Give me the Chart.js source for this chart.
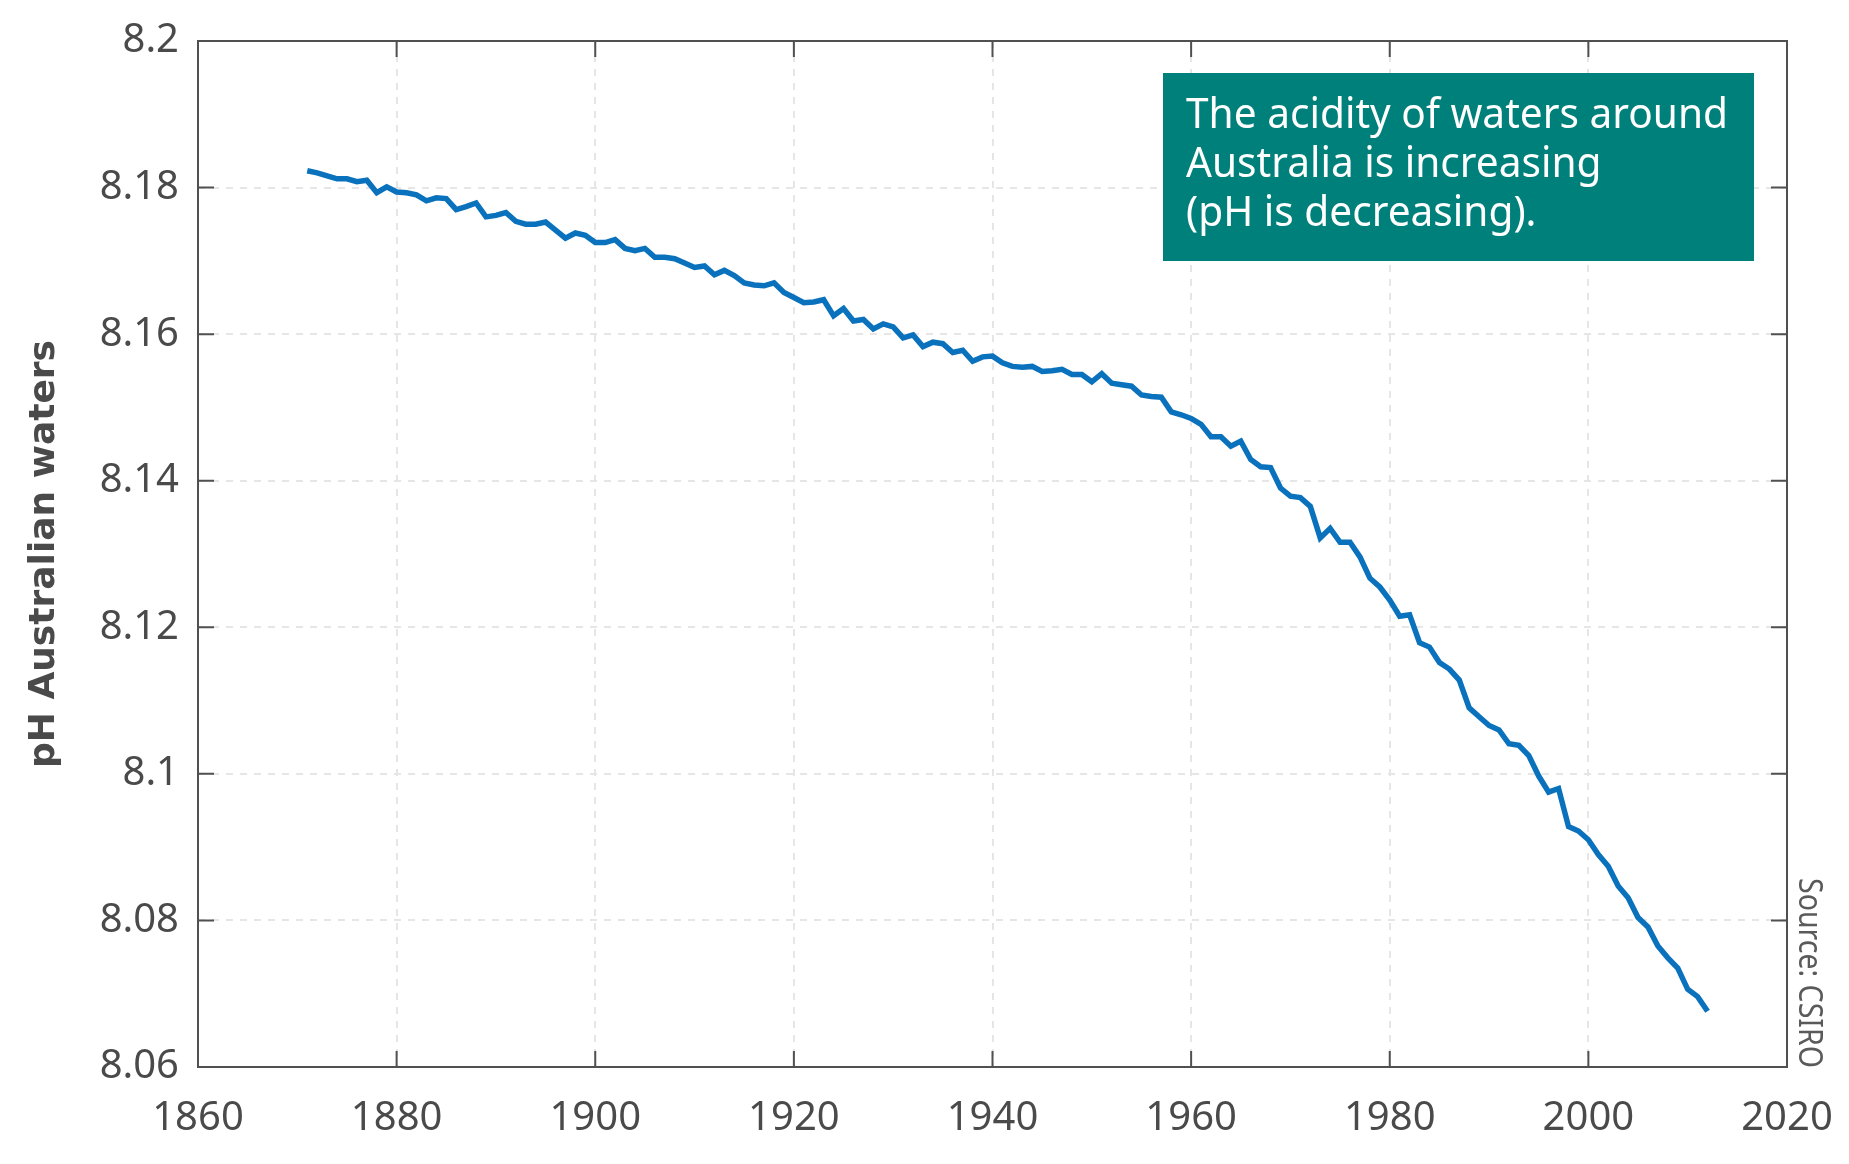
<!DOCTYPE html>
<html>
<head>
<meta charset="utf-8">
<script src="https://cdn.jsdelivr.net/npm/chart.js@4/dist/chart.umd.min.js"></script>
<style>
  body { margin: 0; background: #fff; }
  #wrap { width: 1849px; height: 1164px; }
</style>
</head>
<body>
<div id="wrap"><canvas id="phChart" width="1849" height="1164"></canvas></div>
<script>
const years = [
  1871, 1872, 1873, 1874, 1875, 1876, 1877, 1878, 1879, 1880,
  1881, 1882, 1883, 1884, 1885, 1886, 1887, 1888, 1889, 1890,
  1891, 1892, 1893, 1894, 1895, 1896, 1897, 1898, 1899, 1900,
  1901, 1902, 1903, 1904, 1905, 1906, 1907, 1908, 1909, 1910,
  1911, 1912, 1913, 1914, 1915, 1916, 1917, 1918, 1919, 1920,
  1921, 1922, 1923, 1924, 1925, 1926, 1927, 1928, 1929, 1930,
  1931, 1932, 1933, 1934, 1935, 1936, 1937, 1938, 1939, 1940,
  1941, 1942, 1943, 1944, 1945, 1946, 1947, 1948, 1949, 1950,
  1951, 1952, 1953, 1954, 1955, 1956, 1957, 1958, 1959, 1960,
  1961, 1962, 1963, 1964, 1965, 1966, 1967, 1968, 1969, 1970,
  1971, 1972, 1973, 1974, 1975, 1976, 1977, 1978, 1979, 1980,
  1981, 1982, 1983, 1984, 1985, 1986, 1987, 1988, 1989, 1990,
  1991, 1992, 1993, 1994, 1995, 1996, 1997, 1998, 1999, 2000,
  2001, 2002, 2003, 2004, 2005, 2006, 2007, 2008, 2009, 2010,
  2011, 2012
];

const phValues = [
  8.1823, 8.1820, 8.1816, 8.1812, 8.1812, 8.1808, 8.1810, 8.1793, 8.1801, 8.1794,
  8.1793, 8.1790, 8.1782, 8.1786, 8.1785, 8.1770, 8.1774, 8.1779, 8.1760, 8.1762,
  8.1766, 8.1754, 8.1750, 8.1750, 8.1753, 8.1742, 8.1731, 8.1738, 8.1735, 8.1725,
  8.1725, 8.1729, 8.1717, 8.1714, 8.1717, 8.1705, 8.1705, 8.1703, 8.1697, 8.1691,
  8.1693, 8.1681, 8.1687, 8.1680, 8.1670, 8.1667, 8.1666, 8.1670, 8.1657, 8.1650,
  8.1643, 8.1644, 8.1647, 8.1625, 8.1635, 8.1618, 8.1620, 8.1607, 8.1614, 8.1610,
  8.1595, 8.1599, 8.1583, 8.1589, 8.1587, 8.1575, 8.1578, 8.1563, 8.1569, 8.1570,
  8.1561, 8.1556, 8.1555, 8.1556, 8.1549, 8.1550, 8.1552, 8.1545, 8.1545, 8.1535,
  8.1546, 8.1533, 8.1531, 8.1529, 8.1517, 8.1515, 8.1514, 8.1494, 8.1490, 8.1485,
  8.1477, 8.1460, 8.1460, 8.1447, 8.1454, 8.1429, 8.1419, 8.1418, 8.1390, 8.1379,
  8.1377, 8.1365, 8.1322, 8.1335, 8.1316, 8.1316, 8.1296, 8.1267, 8.1255, 8.1237,
  8.1215, 8.1217, 8.1179, 8.1173, 8.1152, 8.1143, 8.1128, 8.1090, 8.1078, 8.1066,
  8.1060, 8.1041, 8.1039, 8.1025, 8.0997, 8.0975, 8.0980, 8.0928, 8.0922, 8.0910,
  8.0890, 8.0874, 8.0847, 8.0831, 8.0804, 8.0791, 8.0765, 8.0749, 8.0735, 8.0706,
  8.0696, 8.0676
];

const xTickLabels = ['1860', '1880', '1900', '1920', '1940', '1960', '1980', '2000', '2020'];
const yTickLabels = ['8.06', '8.08', '8.1', '8.12', '8.14', '8.16', '8.18', '8.2'];
const noteLines = ['The acidity of waters around', 'Australia is increasing', '(pH is decreasing).'];
const yTitle = 'pH Australian waters';
const sourceText = 'Source: CSIRO';

const textColor = '#4a4a4a';
const frameColor = '#505050';

// box frame with inward ticks on all four sides
const framePlugin = {
  id: 'frame',
  afterDraw(chart) {
    const { ctx, chartArea: a, scales } = chart;
    const len = 16;
    ctx.save();
    ctx.strokeStyle = frameColor;
    ctx.lineWidth = 2;
    ctx.strokeRect(a.left, a.top, a.right - a.left, a.bottom - a.top);
    ctx.beginPath();
    scales.x.ticks.forEach(t => {
      const px = scales.x.getPixelForValue(t.value);
      ctx.moveTo(px, a.bottom); ctx.lineTo(px, a.bottom - len);
      ctx.moveTo(px, a.top); ctx.lineTo(px, a.top + len);
    });
    scales.y.ticks.forEach(t => {
      const py = scales.y.getPixelForValue(t.value);
      ctx.moveTo(a.left, py); ctx.lineTo(a.left + len, py);
      ctx.moveTo(a.right, py); ctx.lineTo(a.right - len, py);
    });
    ctx.stroke();
    ctx.restore();
  }
};

// teal note box and the rotated source line
const notePlugin = {
  id: 'note',
  afterDraw(chart) {
    const ctx = chart.ctx;
    ctx.save();
    ctx.fillStyle = '#00807a';
    ctx.fillRect(1163, 73, 591, 188);

    ctx.fillStyle = '#ffffff';
    ctx.font = '41px "Noto Sans"';
    ctx.textBaseline = 'alphabetic';
    const sx = Math.min(1, 542 / ctx.measureText(noteLines[0]).width);
    noteLines.forEach((line, i) => {
      ctx.save();
      ctx.translate(1186, 128 + i * 49);
      ctx.scale(sx, 1);
      ctx.fillText(line, 0, 0);
      ctx.restore();
    });

    ctx.fillStyle = '#5a5a5a';
    ctx.font = '33px "Noto Sans"';
    const w = ctx.measureText(sourceText).width;
    ctx.translate(1799, 878);
    ctx.rotate(Math.PI / 2);
    ctx.scale(Math.min(1, 190 / w), 1);
    ctx.fillText(sourceText, 0, 0);
    ctx.restore();
  }
};

new Chart(document.getElementById('phChart'), {
  type: 'line',
  data: {
    datasets: [{
      label: 'pH',
      data: years.map((yr, i) => ({ x: yr, y: phValues[i] })),
      borderColor: '#0a72bd',
      borderWidth: 5.5,
      pointRadius: 0,
      tension: 0,
      fill: false
    }]
  },
  options: {
    responsive: false,
    animation: false,
    devicePixelRatio: 1,
    layout: { padding: { top: 41, right: 62, left: 0, bottom: 0 } },
    plugins: {
      legend: { display: false },
      tooltip: { enabled: false }
    },
    scales: {
      x: {
        type: 'linear',
        min: 1860,
        max: 2020,
        afterFit(scale) {
          scale.height = 97;
          scale.paddingLeft = 0;
          scale.paddingRight = 0;
        },
        ticks: {
          stepSize: 20,
          padding: 28,
          color: textColor,
          font: { family: 'Noto Sans', size: 40 },
          maxRotation: 0,
          callback: (v, i) => xTickLabels[i]
        },
        grid: { color: '#e6e6e6', lineWidth: 2, drawTicks: false },
        border: { display: false, dash: [7, 7] }
      },
      y: {
        min: 8.06,
        max: 8.2,
        afterFit(scale) {
          scale.width = 198;
          scale.paddingTop = 0;
          scale.paddingBottom = 0;
        },
        ticks: {
          stepSize: 0.02,
          padding: 19,
          color: textColor,
          font: { family: 'Noto Sans', size: 40 },
          callback: (v, i) => yTickLabels[i]
        },
        title: {
          display: true,
          text: yTitle,
          color: textColor,
          font: { family: 'DejaVu Sans', size: 36, weight: 'bold' },
          padding: { top: 23, bottom: 0 }
        },
        grid: { color: '#e6e6e6', lineWidth: 2, drawTicks: false },
        border: { display: false, dash: [7, 7] }
      }
    }
  },
  plugins: [framePlugin, notePlugin]
});
</script>
</body>
</html>
